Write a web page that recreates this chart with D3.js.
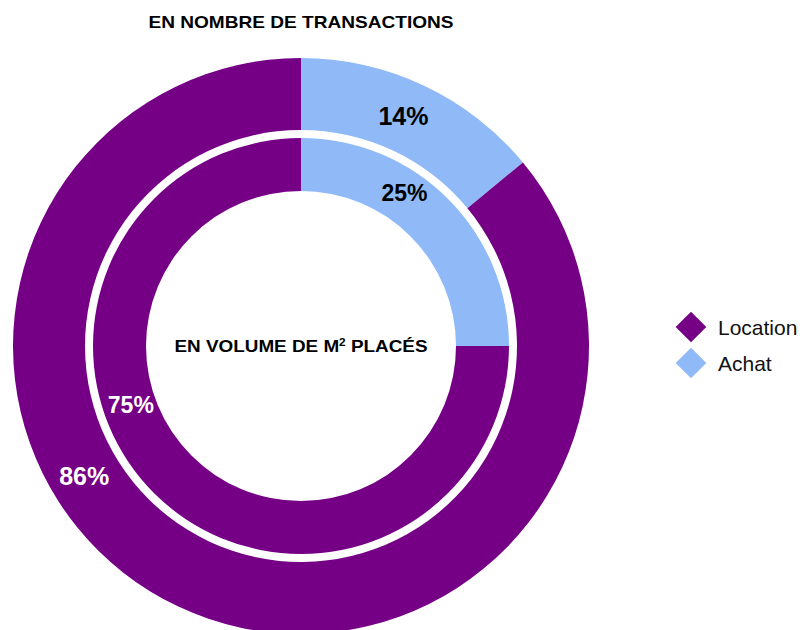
<!DOCTYPE html>
<html>
<head>
<meta charset="utf-8">
<script src="https://cdn.jsdelivr.net/npm/d3@7"></script>
<style>
  body { margin: 0; background: #fff; }
  svg text { font-family: "Liberation Sans", Arial, sans-serif; }
</style>
</head>
<body>
<svg id="chart" width="805" height="630"></svg>
<script>
// data
var categories = ["Achat", "Location"]
var transactions = [14, 86]   // outer ring
var volume = [25, 75]         // inner ring
var legendItems = ["Location", "Achat"]

var colors = { Location: "#750085", Achat: "#8fbaf7" }

var svg = d3.select("#chart")
var cx = 301, cy = 346

// label placement (angle in degrees from top, radius)
var outerLabelSpots = [{a: 24, r: 252}, {a: 239, r: 253}]
var innerLabelSpots = [{a: 34, r: 185}, {a: 251, r: 180}]

var pie = d3.pie().sort(null).value(function(d){ return d.value })

function ring(values, rIn, rOut, spots, sizes){
    var rows = categories.map(function(c, i){ return {cat: c, value: values[i]} })
    var arcs = pie(rows)
    var arc = d3.arc().innerRadius(rIn).outerRadius(rOut)
    var g = svg.append("g").attr("transform", "translate(" + cx + "," + cy + ")")
    g.selectAll("path").data(arcs).enter().append("path")
        .attr("d", arc)
        .attr("fill", function(d){ return colors[d.data.cat] })
    g.selectAll("text").data(arcs).enter().append("text")
        .attr("x", function(d, i){ return spots[i].r * Math.sin(spots[i].a * Math.PI / 180) })
        .attr("y", function(d, i){ return -spots[i].r * Math.cos(spots[i].a * Math.PI / 180) })
        .attr("text-anchor", "middle")
        .attr("dominant-baseline", "central")
        .attr("font-weight", "bold")
        .attr("font-size", sizes)
        .attr("fill", function(d){ return d.data.cat == "Achat" ? "#000" : "#fff" })
        .text(function(d){ return d.data.value + "%" })
}

ring(transactions, 216, 288, outerLabelSpots, "25px")
ring(volume, 155, 208, innerLabelSpots, "23px")

// titles
svg.append("text")
    .attr("x", cx).attr("y", 28)
    .attr("text-anchor", "middle")
    .attr("font-weight", "bold")
    .attr("font-size", "17px")
    .attr("textLength", 305).attr("lengthAdjust", "spacingAndGlyphs")
    .text("EN NOMBRE DE TRANSACTIONS")

var center = svg.append("text")
    .attr("x", cx).attr("y", 352)
    .attr("text-anchor", "middle")
    .attr("font-weight", "bold")
    .attr("font-size", "16px")
    .attr("textLength", 253).attr("lengthAdjust", "spacingAndGlyphs")
center.append("tspan").text("EN VOLUME DE M")
center.append("tspan").attr("font-size", "10px").attr("dy", -6).text("2")
center.append("tspan").attr("dy", 6).text(" PLACÉS")

// legend
var legend = svg.append("g").attr("transform", "translate(691,327)")
var item = legend.selectAll("g").data(legendItems).enter().append("g")
    .attr("transform", function(d, i){ return "translate(0," + (i * 36) + ")" })
item.append("path")
    .attr("d", d3.symbol().type(d3.symbolSquare).size(470))
    .attr("transform", "rotate(45)")
    .attr("fill", function(d){ return colors[d] })
item.append("text")
    .attr("x", 27).attr("y", 0)
    .attr("dominant-baseline", "central")
    .attr("font-size", "21px")
    .attr("fill", "#111")
    .text(function(d){ return d })
</script>
</body>
</html>
